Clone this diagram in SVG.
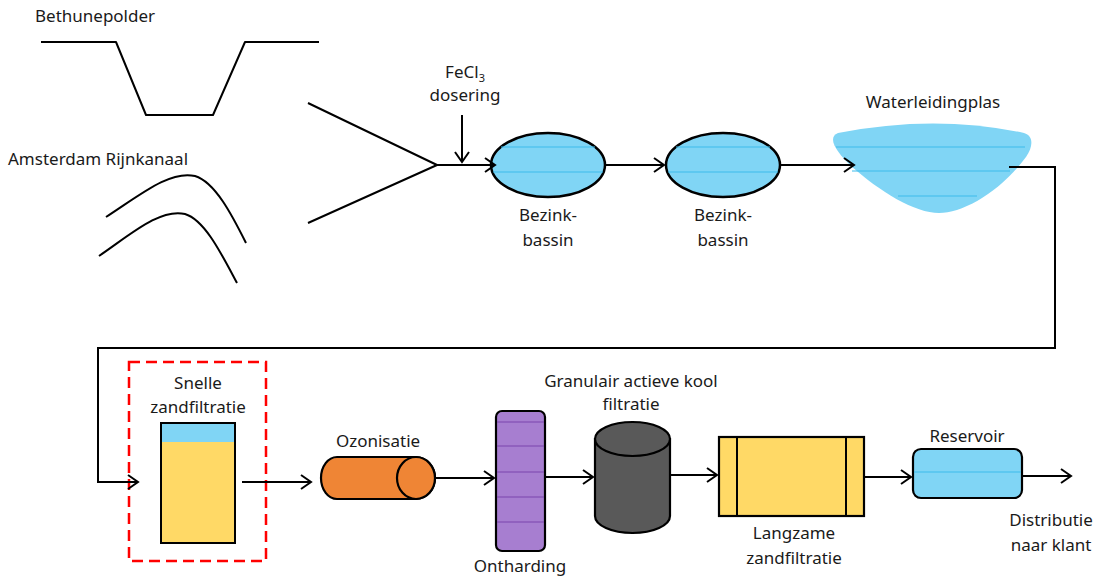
<svg xmlns="http://www.w3.org/2000/svg" width="1098" height="580" viewBox="0 0 1098 580">
  <style>
    text { font-family: "Noto Sans", "Open Sans", sans-serif; font-size: 17px; fill: #1a1a1a; }
    .mid { text-anchor: middle; }
    .line { fill: none; stroke: #000; stroke-width: 2; stroke-linejoin: round; }
    .conn { fill: none; stroke: #000; stroke-width: 2; marker-end: url(#arr); }
    .water { fill: #80d5f5; stroke: #000; stroke-width: 2.5; }
    .wline { stroke: #3cbcec; stroke-width: 1.2; }
    .sand { fill: #ffd966; stroke: #000; stroke-width: 2.2; }
  </style>
  <defs>
    <marker id="arr" markerUnits="userSpaceOnUse" markerWidth="14" markerHeight="18" refX="11" refY="8" orient="auto">
      <path d="M1,1 L11,8 L1,15" fill="none" stroke="#000" stroke-width="2"/>
    </marker>
  </defs>

  <!-- sources -->
  <g id="bethunepolder">
    <text x="35" y="22">Bethunepolder</text>
    <path class="line" d="M41,42 L116,42 L146,115 L213,115 L245,42 L319,42"/>
  </g>
  <g id="amsterdam-rijnkanaal">
    <text x="8" y="165">Amsterdam Rijnkanaal</text>
    <path class="line" d="M106,217 C140,195 170,170 195,176 C215,182 232,215 246,243"/>
    <path class="line" d="M99,256 C130,235 160,208 185,214 C205,220 222,255 237,283"/>
  </g>

  <!-- process steps -->
  <g id="fecl3">
    <text class="mid" x="465" y="78" font-size="16">FeCl<tspan font-size="11" dy="4">3</tspan></text>
    <text class="mid" x="465" y="101" font-size="16">dosering</text>
  </g>
  <g id="bezinkbassin-1">
    <ellipse class="water" cx="548" cy="165" rx="57" ry="32"/>
    <line class="wline" x1="501" y1="147" x2="595" y2="147"/>
    <line class="wline" x1="493" y1="172" x2="603" y2="172"/>
    <text class="mid" x="548" y="221">Bezink-</text>
    <text class="mid" x="548" y="246">bassin</text>
  </g>
  <g id="bezinkbassin-2">
    <ellipse class="water" cx="723" cy="165" rx="57" ry="32"/>
    <line class="wline" x1="676" y1="147" x2="770" y2="147"/>
    <line class="wline" x1="668" y1="172" x2="778" y2="172"/>
    <text class="mid" x="723" y="221">Bezink-</text>
    <text class="mid" x="723" y="246">bassin</text>
  </g>
  <g id="waterleidingplas">
    <text class="mid" x="933" y="108">Waterleidingplas</text>
    <path d="M838,133 Q935,114 1024,133 C1034,136 1033,147 1026,157 C1000,192 963,213 939,213 C915,213 880,192 850,165 C838,153 826,138 838,133 Z" fill="#80d5f5"/>
    <line class="wline" x1="836" y1="147" x2="1025" y2="147"/>
    <line class="wline" x1="852" y1="171" x2="1010" y2="171"/>
    <line class="wline" x1="898" y1="196" x2="977" y2="196"/>
  </g>
  <g id="snelle-zandfiltratie">
    <rect x="129" y="362" width="137" height="199" fill="none" stroke="#f00" stroke-width="2.5" stroke-dasharray="11,6"/>
    <text class="mid" x="198" y="389">Snelle</text>
    <text class="mid" x="198" y="413">zandfiltratie</text>
    <rect x="161" y="423" width="74" height="120" fill="#ffd966"/>
    <rect x="161" y="423" width="74" height="19" fill="#80d5f5"/>
    <rect x="161" y="423" width="74" height="120" fill="none" stroke="#000" stroke-width="2"/>
  </g>
  <g id="ozonisatie">
    <text class="mid" x="378" y="447">Ozonisatie</text>
    <path d="M337,457 L416,457 A19,21 0 0 1 416,499 L337,499 A16,21 0 0 1 337,457 Z" fill="#ef8535" stroke="#000" stroke-width="2.2"/>
    <ellipse cx="416" cy="478" rx="19" ry="21" fill="#ef8535" stroke="#000" stroke-width="2.2"/>
  </g>
  <g id="ontharding">
    <rect x="496" y="411" width="49" height="140" rx="6" fill="#a77ed0" stroke="#000" stroke-width="2.2"/>
    <g stroke="#7a45ad" stroke-width="1">
      <line x1="497" y1="422" x2="544" y2="422"/>
      <line x1="497" y1="446" x2="544" y2="446"/>
      <line x1="497" y1="472" x2="544" y2="472"/>
      <line x1="497" y1="497" x2="544" y2="497"/>
      <line x1="497" y1="522" x2="544" y2="522"/>
    </g>
    <text class="mid" x="520" y="572">Ontharding</text>
  </g>
  <g id="actieve-kool">
    <text class="mid" x="631" y="387">Granulair actieve kool</text>
    <text class="mid" x="631" y="410">filtratie</text>
    <path d="M595,439 L595,516 A37.5,17 0 0 0 670,516 L670,439 Z" fill="#595959" stroke="#000" stroke-width="2.2"/>
    <ellipse cx="632.5" cy="439" rx="37.5" ry="17" fill="#595959" stroke="#000" stroke-width="2.2"/>
  </g>
  <g id="langzame-zandfiltratie">
    <rect class="sand" x="719" y="437" width="145" height="79"/>
    <line x1="737" y1="437" x2="737" y2="516" stroke="#000" stroke-width="2"/>
    <line x1="846" y1="437" x2="846" y2="516" stroke="#000" stroke-width="2"/>
    <text class="mid" x="794" y="539">Langzame</text>
    <text class="mid" x="794" y="564">zandfiltratie</text>
  </g>
  <g id="reservoir">
    <text class="mid" x="967" y="442">Reservoir</text>
    <rect x="913" y="449" width="109" height="49" rx="8" fill="#80d5f5" stroke="#000" stroke-width="2.2"/>
    <line class="wline" x1="914" y1="472" x2="1021" y2="472"/>
  </g>
  <g id="distributie">
    <text class="mid" x="1051" y="526">Distributie</text>
    <text class="mid" x="1051" y="551">naar klant</text>
  </g>

  <!-- connectors -->
  <g id="connectors">
    <path class="line" d="M308,103 L437,165 L308,223"/>
    <path class="conn" d="M437,165 L495,165"/>
    <path class="conn" d="M462,115 L462,162"/>
    <path class="conn" d="M605,165 L664,165"/>
    <path class="conn" d="M780,165 L854,165"/>
    <path class="conn" d="M1009,167 L1055,167 L1055,348 L98,348 L98,482 L138,482"/>
    <path class="conn" d="M242,482 L311,482"/>
    <path class="conn" d="M435,478 L494,478"/>
    <path class="conn" d="M545,477 L593,477"/>
    <path class="conn" d="M670,475 L717,475"/>
    <path class="conn" d="M864,477 L911,477"/>
    <path class="conn" d="M1022,476 L1071,476"/>
  </g>
</svg>
